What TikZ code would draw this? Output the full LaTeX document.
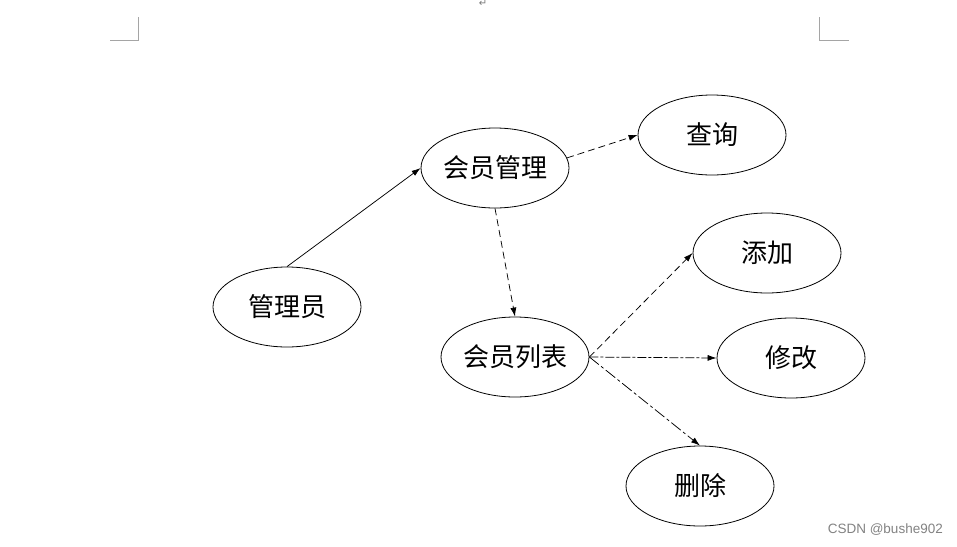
\documentclass[tikz,border=0pt]{standalone}
\usepackage{fontspec}
\newfontfamily\cjk{Noto Sans CJK SC}
\newfontfamily\dejavu{DejaVu Sans}
\setsansfont{Liberation Sans}
\usetikzlibrary{shapes.geometric,arrows.meta}
\definecolor{markgray}{RGB}{165,165,165}
\definecolor{retgray}{RGB}{120,120,120}
\definecolor{wmgray}{RGB}{130,130,130}
\tikzset{
  oval/.style={ellipse,draw=black,line width=0.8pt,minimum width=148pt,minimum height=80pt,inner sep=0pt,font=\cjk\fontsize{26}{30}\selectfont},
  conn/.style={line width=0.75pt,-{Latex[length=9pt,width=6pt]}},
  dashline/.style={conn,dash pattern=on 7pt off 4pt},
  dashdotline/.style={conn,dash pattern=on 9pt off 2pt on 3pt off 2pt},
  longdashdot/.style={conn,dash pattern=on 12pt off 3pt on 3pt off 3pt},
  cornermark/.style={draw=markgray,line width=1pt}
}
\begin{document}
\begin{tikzpicture}[x=1pt,y=-1pt]
\useasboundingbox (0,0) rectangle (957,546);
% page corner marks
\coordinate (lc1) at (138,17); \coordinate (lc2) at (138,40); \coordinate (lc3) at (110,40);
\coordinate (rc1) at (819,17); \coordinate (rc2) at (819,40); \coordinate (rc3) at (849,40);
\draw[cornermark] (lc1) -- (lc2) -- (lc3);
\draw[cornermark] (rc1) -- (rc2) -- (rc3);
\node[text=retgray,font=\dejavu\fontsize{10}{10}\selectfont,inner sep=0pt] (ret) at (483,3) {↵};
% nodes
\node[oval] (gly) at (287,307) {管理员};
\node[oval] (hygl) at (495,168) {会员管理};
\node[oval] (cx) at (712,135) {查询};
\node[oval] (tj) at (767,253) {添加};
\node[oval] (hylb) at (515,357) {会员列表};
\node[oval] (xg) at (791,358) {修改};
\node[oval] (sc) at (700,486) {删除};
% connectors
\draw[conn] (gly.north) -- (hygl.west);
\draw[dashline] (hygl.8) -- (cx.west);
\draw[dashline] (hygl.south) -- (hylb.north);
\draw[dashline] (hylb.east) -- (tj.west);
\draw[dashdotline] (hylb.east) -- (xg.west);
\draw[longdashdot] (hylb.east) -- (sc.north);
% watermark
\node[text=wmgray,font=\sffamily\fontsize{13.5}{13.5}\selectfont,anchor=east,inner sep=0pt] (wm) at (943,530) {CSDN @bushe902};
\end{tikzpicture}
\end{document}
